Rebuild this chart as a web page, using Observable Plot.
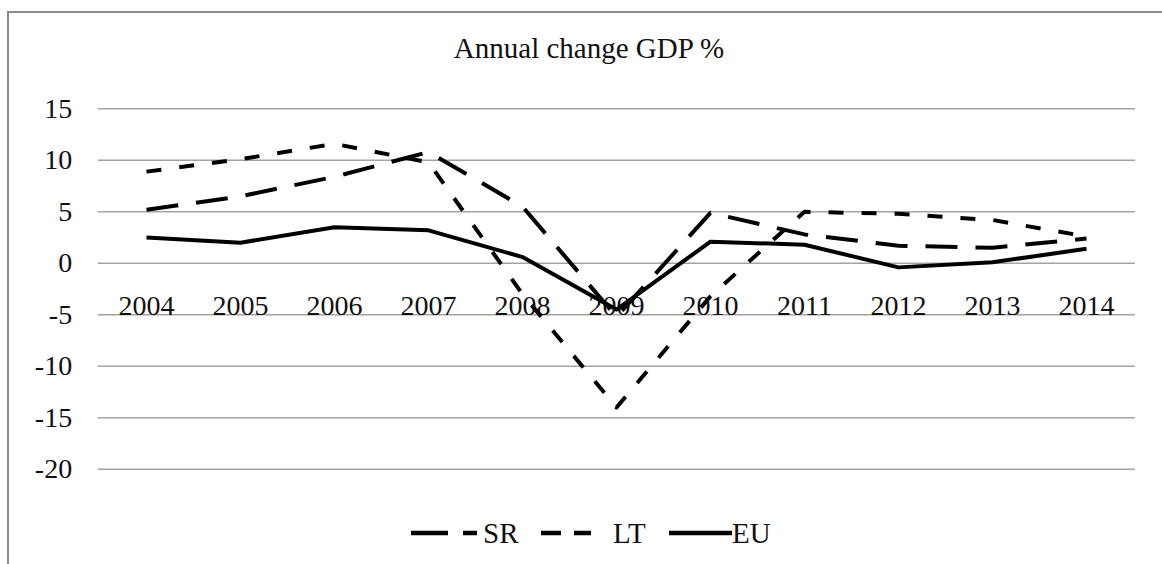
<!DOCTYPE html>
<html>
<head>
<meta charset="utf-8">
<script src="https://cdn.jsdelivr.net/npm/d3@7"></script>
<script src="https://cdn.jsdelivr.net/npm/@observablehq/plot@0.6"></script>
<style>
  html, body { margin: 0; padding: 0; background: #fff; }
  body { width: 1162px; height: 564px; overflow: hidden; position: relative;
         font-family: "Liberation Serif", "Times New Roman", serif; color: #111; }
  #frame { position: absolute; left: 7px; top: 11px; width: 2000px; height: 2000px;
           border-left: 2px solid #8a8a8a; border-top: 2px solid #8a8a8a; pointer-events: none; }
  #title { position: relative; height: 80px; box-sizing: border-box; padding-top: 34px;
           font-size: 29px; line-height: 29px; }
  #title span { position: absolute; left: 589px; transform: translateX(-50%); white-space: nowrap; }
  #chart svg { display: block; }
  #legend { position: relative; height: 64px; }
  #legend .it { position: absolute; top: 0; height: 66px; display: flex; align-items: center;
                font-size: 29px; line-height: 29px; white-space: nowrap; }
</style>
</head>
<body>
<div id="frame"></div>
<div id="title"><span>Annual change GDP %</span></div>
<div id="chart"></div>
<div id="legend"></div>
<script>
const years = [2004, 2005, 2006, 2007, 2008, 2009, 2010, 2011, 2012, 2013, 2014];
const SR = [5.2, 6.5, 8.4, 10.8, 5.5, -5.2, 4.9, 2.8, 1.7, 1.5, 2.4];
const LT = [8.9, 10.1, 11.6, 9.8, -3.0, -14.0, -3.2, 5.0, 4.8, 4.2, 2.6];
const EU = [2.5, 2.0, 3.5, 3.2, 0.6, -4.5, 2.1, 1.8, -0.4, 0.1, 1.4];
const yTicks = [15, 10, 5, 0, -5, -10, -15, -20];
const seriesNames = ["SR", "LT", "EU"];
const seriesDash = { SR: "32,18", LT: "15,18", EU: null };

const yearLabels = years.map(String);
const series = { SR, LT, EU };
const rows = seriesNames.flatMap(name =>
  series[name].map((v, i) => ({ series: name, year: yearLabels[i], value: v })));

const lineMarks = seriesNames.map(name =>
  Plot.line(rows.filter(r => r.series === name), {
    x: "year", y: "value", stroke: "#000", strokeWidth: 4,
    strokeLinejoin: "round", strokeLinecap: "butt",
    ...(seriesDash[name] ? { strokeDasharray: seriesDash[name] } : {})
  }));

const chart = Plot.plot({
  width: 1162,
  height: 420,
  marginLeft: 97.7,
  marginRight: 27,
  marginTop: 28.3,
  marginBottom: 31.3,
  x: { type: "point", domain: yearLabels, padding: 0.5, axis: null },
  y: { domain: [-20, 15], ticks: yTicks, tickSize: 0, tickPadding: 26,
       tickFormat: d => String(d), label: null },
  style: { fontFamily: "'Liberation Serif', 'Times New Roman', serif", fontSize: "28px",
           color: "#111", background: "transparent", overflow: "visible" },
  marks: [
    Plot.ruleY(yTicks, { stroke: "#a3a3a3", strokeWidth: 1.5 }),
    Plot.text(yearLabels, { x: d => d, y: () => 0, text: d => d, dy: 43, fontSize: 28, fill: "#111" }),
    ...lineMarks
  ]
});
document.getElementById("chart").appendChild(chart);

// legend
const legendLayout = {
  SR: { sw: 411, w: 66, dash: "37,15,14", tx: 483 },
  LT: { sw: 541, w: 50, dash: "20,13,17", tx: 613 },
  EU: { sw: 669, w: 63, dash: null, tx: 732 }
};
const legend = document.getElementById("legend");
for (const name of seriesNames) {
  const L = legendLayout[name];
  const s = document.createElement("div");
  s.className = "it";
  s.style.left = L.sw + "px";
  s.innerHTML = `<svg width="${L.w}" height="8"><line x1="0" y1="4" x2="${L.w}" y2="4" stroke="#000" stroke-width="4.5"${L.dash ? ` stroke-dasharray="${L.dash}"` : ""}/></svg>`;
  legend.appendChild(s);
  const t = document.createElement("div");
  t.className = "it";
  t.style.left = L.tx + "px";
  t.textContent = name;
  legend.appendChild(t);
}
</script>
</body>
</html>
